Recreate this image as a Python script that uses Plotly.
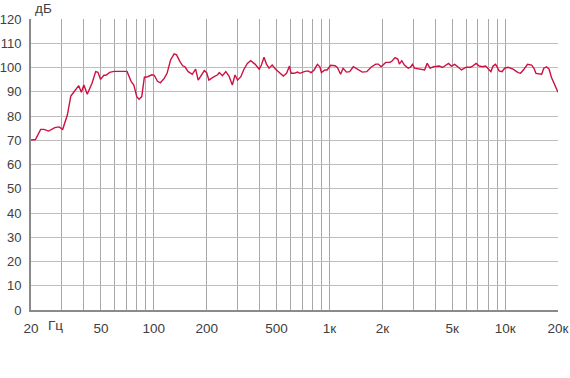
import plotly.graph_objects as go

freq = [20, 21.2, 22.7, 23.7, 25.2, 27.3, 28.9, 30.3, 32.2, 33.7, 35, 37.4, 38.7, 40, 41.8, 44.5,
        46.7, 48.1, 49.8, 52, 53.4, 56.1, 59.3, 65.2, 70.4, 74.4, 77, 80, 82.4, 85.4, 88.4, 92.4,
        97.3, 100.6, 105, 109, 114.6, 119, 124.6, 130.6, 134.8, 141, 146, 150.4, 157, 165.6, 173,
        179, 187, 194, 200, 206, 218, 231, 236, 246, 257, 268, 280, 290, 300, 313, 326, 341, 356,
        377, 398, 410, 424, 438, 453, 472, 494, 518, 546, 570, 592, 605, 630, 658, 680, 718, 754,
        787, 818, 854, 882, 900, 942, 970, 1016, 1076, 1110, 1157, 1196, 1250, 1304, 1366, 1460,
        1538, 1630, 1724, 1834, 1898, 1966, 2092, 2214, 2280, 2364, 2450, 2500, 2580, 2670, 2808,
        2892, 2970, 3052, 3256, 3480, 3600, 3740, 3920, 4220, 4400, 4600, 4760, 4940, 5160, 5420,
        5640, 6000, 6320, 6530, 6840, 7120, 7440, 7750, 8080, 8300, 8540, 8820, 9000, 9240, 9600,
        9940, 10400, 11100, 11860, 12240, 12800, 13420, 14150, 14600, 14980, 15800, 16150, 16600,
        17200, 17800, 18340, 20000]
db = [70.1, 70.3, 74.5, 74.5, 73.8, 75.2, 75.5, 74.5, 80.4, 88.2, 89.8, 92.5, 89.8, 92.8, 89, 93.5,
      98.3, 98, 95.1, 96.8, 96.8, 98, 98.4, 98.3, 98.4, 94.2, 92.8, 88, 86.9, 88, 96, 96.2,
      97, 96.8, 94.3, 93.7, 95.5, 97.6, 103.1, 105.6, 105.2, 102.4, 100.7, 100.3, 98.3, 97.2, 99.3,
      94.8, 96.9, 98.7, 97.9, 94.8, 96, 97, 97.9, 96.6, 98.3, 96.5, 92.8, 96.9, 94.8, 96.2, 99.3, 101.7, 102.8,
      101.4, 99.3, 101, 104.2, 101.4, 99.7, 101, 99.3, 97.9, 96.5, 97.6, 100.6, 97.6, 97.6, 98.1, 97.6, 98.3, 98.6,
      97.9, 99, 101.3, 100.3, 97.9, 99, 99, 100.9, 100.7, 100, 97.2, 99.7, 98.1, 98.3, 100.3, 99,
      98.1, 98.3, 100.1, 101.4, 101.4, 100.3, 102.1, 102.1, 102.8, 104.1, 103.5, 101.4, 102.8, 101, 99.7,
      100.1, 101.3, 99.7, 99.3, 99, 101.7, 99.7, 100.3, 100.6, 100, 101, 101.7, 100.6, 101.3, 100.1,
      99, 100.1, 100.1, 100.6, 101.7, 100.6, 100.3, 100.6, 99.3, 98.3, 100.6, 101.3, 100.3, 98.6, 98.3,
      99.7, 100.1, 99.3, 97.9, 97.6, 99.3, 101.3, 101, 99.7, 97.6, 97.2, 97.2, 99.7,
      100.3, 99.3, 96, 89.8]

grid_freqs = [20, 30, 40, 50, 60, 70, 80, 90, 100, 200, 300, 400, 500, 600, 700, 800, 900,
              1000, 2000, 3000, 4000, 5000, 6000, 7000, 8000, 9000, 10000, 20000]
labels = {20: "20", 50: "50", 100: "100", 200: "200", 500: "500", 1000: "1к", 2000: "2к",
          5000: "5к", 10000: "10к", 20000: "20к"}
grid_text = [labels.get(f, "") for f in grid_freqs]
y_ticks = list(range(0, 121, 10))

fig = go.Figure()
fig.add_trace(go.Scatter(x=freq, y=db, mode="lines",
                         line=dict(color="#cc1143", width=1.4), hoverinfo="skip"))

font = dict(family="Liberation Sans, Arial, sans-serif", size=13.5, color="#404040")
yfont = dict(family="Liberation Sans, Arial, sans-serif", size=13, color="#404040")

fig.update_layout(
    width=570, height=378,
    margin=dict(l=31, r=12, t=19, b=68),
    paper_bgcolor="white", plot_bgcolor="white",
    showlegend=False,
    font=font,
    xaxis=dict(type="log", range=[1.30103, 4.30103],
               tickmode="array", tickvals=grid_freqs, ticktext=grid_text,
               showgrid=True, gridcolor="#a8a8a8", gridwidth=1,
               showline=True, linecolor="#8a8a8a", linewidth=2,
               ticks="", ticklen=0, ticklabelstandoff=5, tickfont=font, zeroline=False,
               automargin=False, ticklabeloverflow="allow"),
    yaxis=dict(range=[0, 120], tickmode="array", tickvals=y_ticks,
               showgrid=True, gridcolor="#bdbdbd", gridwidth=1,
               showline=True, linecolor="#8a8a8a", linewidth=2,
               ticks="", ticklen=0, ticklabelstandoff=5, tickfont=yfont, zeroline=False,
               automargin=False, ticklabeloverflow="allow"),
    annotations=[
        dict(text="дБ", xref="paper", yref="paper", x=0.003, y=1.0, xanchor="left",
             yanchor="bottom", yshift=1, showarrow=False, font=font),
        dict(text="Гц", xref="paper", yref="paper", x=0.046, y=0, xanchor="center",
             yanchor="top", yshift=-6, showarrow=False, font=font),
    ],
)

fig.write_html("out.html", config={"displayModeBar": False},
               post_script="document.body.style.margin='0';")
